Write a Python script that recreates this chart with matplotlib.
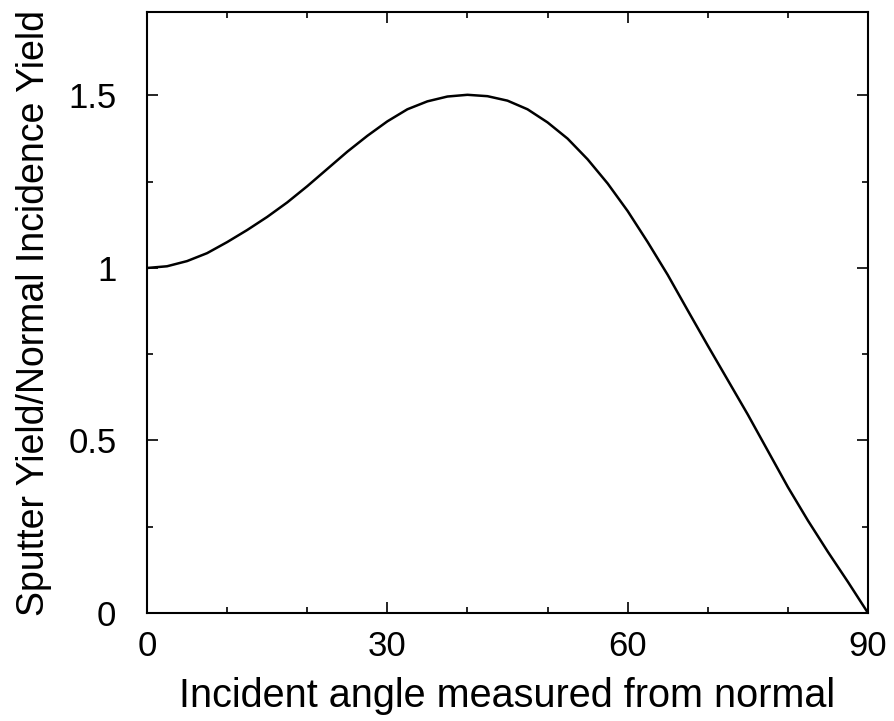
import matplotlib
matplotlib.use("Agg")
import matplotlib.pyplot as plt
from matplotlib.ticker import MultipleLocator

angle = [0, 2.5, 5, 7.5, 10, 12.5, 15, 17.5, 20, 22.5, 25, 27.5, 30, 32.5, 35,
         37.5, 40, 42.5, 45, 47.5, 50, 52.5, 55, 57.5, 60, 62.5, 65, 67.5, 70,
         72.5, 75, 77.5, 80, 82.5, 85, 87.5, 90]
yield_ratio = [1.000, 1.005, 1.02, 1.043, 1.075, 1.11, 1.148, 1.19, 1.237, 1.287,
               1.337, 1.383, 1.425, 1.46, 1.483, 1.497, 1.502, 1.498, 1.485,
               1.46, 1.422, 1.375, 1.315, 1.245, 1.165, 1.075, 0.98, 0.877,
               0.775, 0.675, 0.575, 0.47, 0.365, 0.268, 0.177, 0.09, 0.0]
xticks = [0, 30, 60, 90]
xticklabels = ["0", "30", "60", "90"]
yticks = [0, 0.5, 1, 1.5]
yticklabels = ["0", "0.5", "1", "1.5"]

plt.rcParams['font.family'] = ['Liberation Sans', 'DejaVu Sans']
fig = plt.figure(figsize=(8.95, 7.21), dpi=100)
ax = fig.add_axes([147/895, 108/721, 721/895, 601/721])
ax.plot(angle, yield_ratio, color='black', lw=1.8)
ax.set_xlim(0, 90)
ax.set_ylim(0, 1.742)
ax.set_xticks(xticks)
ax.set_xticklabels(xticklabels)
ax.set_yticks(yticks)
ax.set_yticklabels(yticklabels)
ax.xaxis.set_minor_locator(MultipleLocator(10))
ax.yaxis.set_minor_locator(MultipleLocator(0.25))
ax.tick_params(which='both', direction='in', top=True, right=True, labelsize=25, width=1.2)
ax.tick_params(which='major', length=8)
ax.tick_params(which='minor', length=4)
ax.tick_params(axis='x', which='major', pad=12)
ax.tick_params(axis='y', which='major', pad=22)
for s in ax.spines.values():
    s.set_linewidth(1.5)
ax.set_xlabel("Incident angle measured from normal", fontsize=28.5, labelpad=10)
ax.set_ylabel("Sputter Yield/Normal Incidence Yield", fontsize=27, labelpad=12)
fig.savefig("out.png", dpi=100)
